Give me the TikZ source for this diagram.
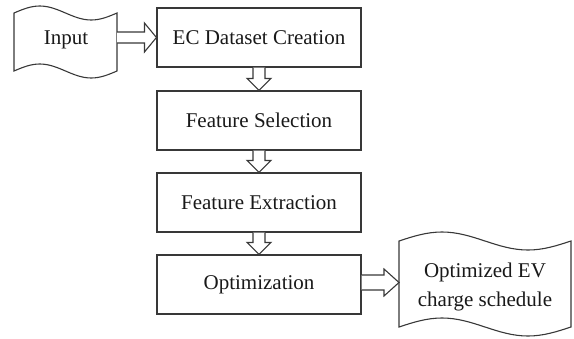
\documentclass[tikz,border=0pt]{standalone}
\usepackage{fontspec}
\setmainfont{Liberation Serif}
\usetikzlibrary{calc}
\begin{document}
\begin{tikzpicture}[x=1pt,y=-1pt,
  lineclr/.style={draw=black!78,line width=1.1pt},
  procbox/.style={lineclr,rectangle,minimum width=204pt,minimum height=59pt,inner sep=0pt,
    font=\fontsize{21}{25}\selectfont,text=black!90},
  labeltext/.style={inner sep=0pt,align=center,font=\fontsize{21}{29}\selectfont,text=black!90},
  blockarrow/.style={lineclr,line join=miter,fill=white},
  tapeline/.style={lineclr,fill=white}]
\useasboundingbox (0,0) rectangle (574,338);
% tapes
\draw[tapeline] (14,13) sin (39.75,6) cos (65.5,13) sin (91.25,20) cos (117,13)
  -- (117,71) sin (91.25,78) cos (65.5,71) sin (39.75,64) cos (14,71) -- cycle;
\node[labeltext] (in) at (66,40) {Input};
\draw[tapeline] (399,241) sin (442,232) cos (485,241) sin (528,250) cos (571,241)
  -- (571,327) sin (528,336) cos (485,327) sin (442,318) cos (399,327) -- cycle;
\node[labeltext] (out) at (485,287) {Optimized EV\\charge schedule};
\coordinate (inR) at (117,37.5);
\coordinate (outL) at (399,282.5);
% boxes
\node[procbox] (ec) at (259,37.5) {EC Dataset Creation};
\node[procbox] (fs) at (259,120.5) {Feature Selection};
\node[procbox] (fe) at (259,202.5) {Feature Extraction};
\node[procbox] (op) at (259,284.5) {Optimization};
% input arrow
\draw[blockarrow] ($(inR)+(0,-5.5)$) -- ($(ec.west)+(-12,-5.5)$) -- ($(ec.west)+(-12,-14.5)$)
  -- (ec.west) -- ($(ec.west)+(-12,14.5)$) -- ($(ec.west)+(-12,5.5)$) -- ($(inR)+(0,5.5)$);
% down arrows
\foreach \s/\t in {ec/fs,fs/fe,fe/op}{
  \draw[blockarrow] ($(\s.south)+(-6,0)$) -- ($(\t.north)+(-6,-12)$) -- ($(\t.north)+(-12,-12)$)
    -- (\t.north) -- ($(\t.north)+(12,-12)$) -- ($(\t.north)+(6,-12)$) -- ($(\s.south)+(6,0)$);
}
% output arrow
\draw[blockarrow] ($(op.east |- outL)+(0,-7.5)$) -- ($(outL)+(-15,-7.5)$) -- ($(outL)+(-15,-13.5)$)
  -- (outL) -- ($(outL)+(-15,13.5)$) -- ($(outL)+(-15,7.5)$) -- ($(op.east |- outL)+(0,7.5)$);
\end{tikzpicture}
\end{document}
